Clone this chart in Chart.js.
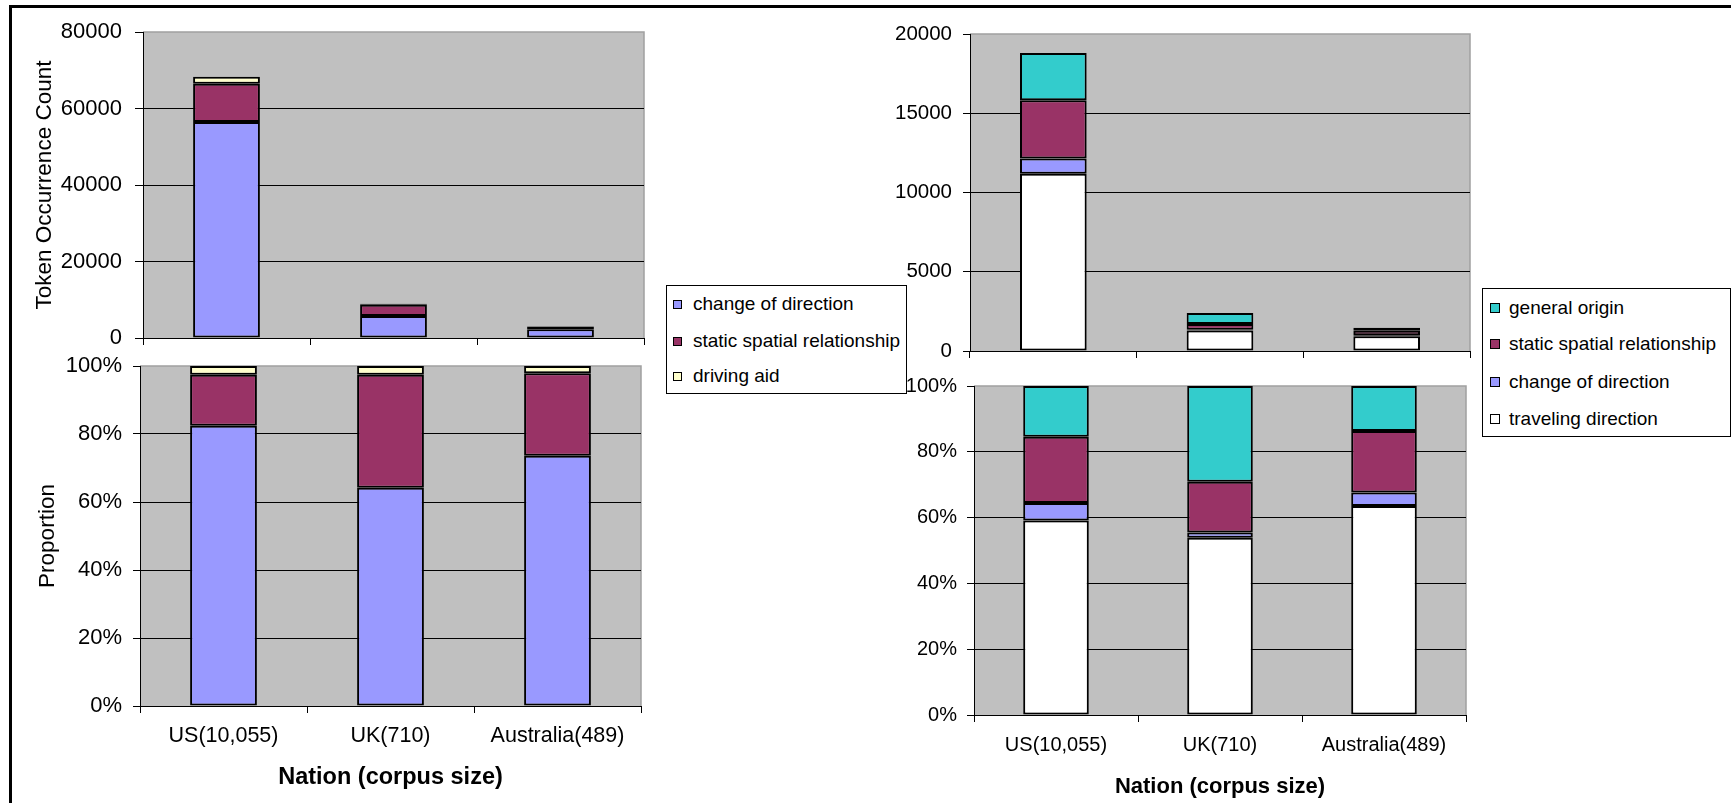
<!DOCTYPE html>
<html>
<head>
<meta charset="utf-8">
<script src="https://cdn.jsdelivr.net/npm/chart.js@4"></script>
<style>
body { margin: 0; background: #fff; width: 1731px; height: 803px; overflow: hidden; position: relative; font-family: 'Liberation Sans', Arial, sans-serif; }
.frame { position: absolute; left: 9px; top: 5px; width: 1800px; height: 900px; border: 3px solid #000; }
canvas { position: absolute; }
.legend { position: absolute; border: 1px solid #000; background: #fff; box-sizing: border-box; }
.legend .txt { position: absolute; font-size: 19px; line-height: 20px; white-space: nowrap; color: #000; }
.legend .mk { position: absolute; border: 1px solid #000; box-sizing: border-box; }
</style>
</head>
<body>
<div class="frame"></div>
<canvas id="tl" width="660" height="350" style="left:0;top:0"></canvas>
<canvas id="bl" width="660" height="463" style="left:0;top:340px"></canvas>
<canvas id="tr" width="660" height="362" style="left:820px;top:0"></canvas>
<canvas id="br" width="660" height="443" style="left:820px;top:360px"></canvas>
<div class="legend" id="legL" style="left:666px;top:285px;width:241px;height:109px"></div>
<div class="legend" id="legR" style="left:1482px;top:288px;width:249px;height:149px"></div>
<script>
const nations = ['US(10,055)', 'UK(710)', 'Australia(489)'];

// left pair
const leftNames = ['change of direction', 'static spatial relationship', 'driving aid'];
const leftColors = ['#9999FF', '#993366', '#FFFFCC'];
const countChange = [56500, 5750, 2280];
const countStatic = [10000, 2950, 755];
const countDriving = [1800, 240, 65];
const propChange = [82.4, 64.2, 73.6];
const propStatic = [15.0, 33.2, 24.3];
const propDriving = [2.6, 2.6, 2.1];

// right pair
const rightNames = ['traveling direction', 'change of direction', 'static spatial relationship', 'general origin'];
const rightColors = ['#FFFFFF', '#9999FF', '#993366', '#33CCCC'];
const countTravel = [11180, 1300, 930];
const countTurn = [960, 40, 60];
const countSpatial = [3680, 370, 280];
const countOrigin = [2980, 690, 200];
const propTravel = [59.1, 53.9, 63.5];
const propTurn = [5.3, 1.6, 4.1];
const propSpatial = [20.2, 15.4, 18.7];
const propOrigin = [15.4, 29.1, 13.7];

const countTicks = [0, 20000, 40000, 60000, 80000];
const rightCountTicks = [0, 5000, 10000, 15000, 20000];
const pctTicks = [0, 20, 40, 60, 80, 100];

Chart.defaults.font.family = "'Liberation Sans', Arial, sans-serif";
Chart.defaults.color = '#000';

const plotFrame = {
  id: 'plotFrame',
  beforeDraw(chart) {
    const a = chart.chartArea, c = chart.ctx;
    c.save();
    c.fillStyle = '#C0C0C0';
    c.fillRect(a.left, a.top, a.right - a.left, a.bottom - a.top);
    c.strokeStyle = '#A0A0A0';
    c.lineWidth = 1.5;
    c.beginPath();
    c.moveTo(a.left, a.top);
    c.lineTo(a.right, a.top);
    c.lineTo(a.right, a.bottom);
    c.stroke();
    c.restore();
  }
};

function noPad(s) {
  s.paddingTop = 0; s.paddingBottom = 0; s.paddingLeft = 0; s.paddingRight = 0;
}

function makeChart(id, names, colors, series, o) {
  const datasets = series.map((d, i) => ({
    label: names[i],
    data: d,
    backgroundColor: colors[i],
    borderColor: '#000',
    borderWidth: 2,
    borderSkipped: false,
    barPercentage: 0.4,
    categoryPercentage: 1,
    stack: 's'
  }));
  const yMax = o.ticks[o.ticks.length - 1];
  return new Chart(document.getElementById(id), {
    type: 'bar',
    data: { labels: nations, datasets },
    plugins: [plotFrame],
    options: {
      responsive: false,
      animation: false,
      devicePixelRatio: 1,
      layout: { padding: o.pad },
      plugins: { legend: { display: false }, tooltip: { enabled: false } },
      scales: {
        x: {
          stacked: true,
          grid: { drawOnChartArea: false, drawTicks: true, tickLength: 7, tickColor: '#000' },
          border: { color: '#000', width: 1 },
          ticks: { display: o.xLabels, font: { size: o.xFont }, padding: o.xPad, maxRotation: 0 },
          title: { display: !!o.xTitle, text: o.xTitle, font: { size: o.xTitleFont, weight: 'bold' }, padding: { top: 0, bottom: o.xTitlePad } },
          afterFit: s => { s.height = o.xHeight; noPad(s); }
        },
        y: {
          stacked: true,
          min: 0,
          max: yMax,
          afterBuildTicks: s => { s.ticks = o.ticks.map(v => ({ value: v })); },
          grid: {
            color: c => (c.tick && c.tick.value === yMax) ? 'rgba(0,0,0,0)' : '#000',
            tickColor: '#000',
            tickLength: o.yTick,
            lineWidth: 1
          },
          border: { color: '#000', width: 1 },
          ticks: { font: { size: o.yFont }, padding: o.yPad, callback: o.fmt },
          title: { display: !!o.yTitle, text: o.yTitle, font: { size: 22.5 }, padding: { top: o.yTitlePad, bottom: 0 } },
          afterFit: s => { s.width = o.yWidth; noPad(s); }
        }
      }
    }
  });
}

const pct = v => v + '%';
const plain = v => String(v);

makeChart('tl', leftNames, leftColors, [countChange, countStatic, countDriving], {
  pad: { top: 32, right: 16, bottom: 0, left: 0 }, yWidth: 143, xHeight: 12,
  ticks: countTicks, fmt: plain, yFont: 22, yPad: 13, yTick: 8,
  yTitle: 'Token Occurrence Count', yTitlePad: 31, xLabels: false
});
makeChart('bl', leftNames, leftColors, [propChange, propStatic, propDriving], {
  pad: { top: 26, right: 19, bottom: 0, left: 0 }, yWidth: 140, xHeight: 97,
  ticks: pctTicks, fmt: pct, yFont: 22, yPad: 11, yTick: 7,
  yTitle: 'Proportion', yTitlePad: 34, xLabels: true, xFont: 21.5, xPad: 10,
  xTitle: 'Nation (corpus size)', xTitleFont: 23.5, xTitlePad: 11
});
makeChart('tr', rightNames, rightColors, [countTravel, countTurn, countSpatial, countOrigin], {
  pad: { top: 34, right: 10, bottom: 0, left: 0 }, yWidth: 150, xHeight: 11,
  ticks: rightCountTicks, fmt: plain, yFont: 20.5, yPad: 11, yTick: 7, xLabels: false
});
makeChart('br', rightNames, rightColors, [propTravel, propTurn, propSpatial, propOrigin], {
  pad: { top: 26, right: 14, bottom: 0, left: 0 }, yWidth: 154, xHeight: 88,
  ticks: pctTicks, fmt: pct, yFont: 20, yPad: 10, yTick: 7,
  xLabels: true, xFont: 20, xPad: 11,
  xTitle: 'Nation (corpus size)', xTitleFont: 22, xTitlePad: 3
});

function buildLegend(elId, names, colors, order, rows, mkX, mkSize, txtX) {
  const el = document.getElementById(elId);
  order.forEach((idx, r) => {
    const mk = document.createElement('div');
    mk.className = 'mk';
    mk.style.left = mkX + 'px';
    mk.style.top = (rows[r] - mkSize / 2) + 'px';
    mk.style.width = mkSize + 'px';
    mk.style.height = mkSize + 'px';
    mk.style.background = colors[idx];
    el.appendChild(mk);
    const t = document.createElement('div');
    t.className = 'txt';
    t.style.left = txtX + 'px';
    t.style.top = (rows[r] - 10) + 'px';
    t.textContent = names[idx];
    el.appendChild(t);
  });
}
buildLegend('legL', leftNames, leftColors, [0, 1, 2], [18, 55, 90], 6, 9, 26);
buildLegend('legR', rightNames, rightColors, [3, 2, 1, 0], [19, 55, 93, 130], 7, 10, 26);
</script>
</body>
</html>
